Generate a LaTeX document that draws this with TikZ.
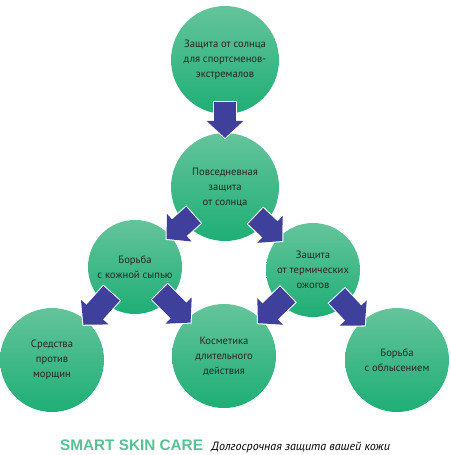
\documentclass[tikz,border=0pt]{standalone}
\usepackage{fontspec}
\setmainfont{PT Sans}
\newfontfamily\brandfont{Liberation Sans}
\usetikzlibrary{arrows.meta}
\definecolor{ballTop}{RGB}{100,196,155}
\definecolor{ballBot}{RGB}{30,174,118}
\definecolor{arrBlue}{RGB}{62,64,156}
\definecolor{brandGreen}{RGB}{86,194,148}
\begin{document}
\begin{tikzpicture}[x=1pt,y=-1pt,
  ball/.style={circle,inner sep=0pt,minimum size=#1,top color=ballTop,bottom color=ballBot,
    text=black!85,align=center,font=\fontsize{10.6}{15}\selectfont},
  ball/.default=108pt,
  push/.style={arrBlue,line width=22pt,-{Triangle[width=36pt,length=17pt]},
    shorten <=-12pt,shorten >=-5pt,
    preaction={draw=white,line width=24pt,-{Triangle[width=41pt,length=19.4pt]},
      shorten <=-13pt,shorten >=-6.4pt}}]
\useasboundingbox (0,0) rectangle (450,455);
\node[ball] (top) at (225,60) {Защита от солнца\\для спортсменов-\\экстремалов};
\node[ball] (day) at (225,187) {Повседневная\\защита\\от солнца};
\node[ball=94pt] (rash) at (135,267) {Борьба\\с кожной сыпью};
\node[ball=94pt] (burn) at (313,270) {Защита\\от термических\\ожогов};
\node[ball=104pt] (wrinkle) at (52,360) {Средства\\против\\морщин};
\node[ball=104pt] (lasting) at (224,356) {Косметика\\длительного\\действия};
\node[ball=104pt] (hair) at (397,360) {Борьба\\с облысением};

\draw[push] (top)--(day);
\draw[push] (day)--(rash);
\draw[push] (day)--(burn);
\draw[push] (rash)--(wrinkle);
\draw[push] (rash)--(lasting);
\draw[push] (burn)--(lasting);
\draw[push] (burn)--(hair);

\node[anchor=base west,inner sep=0pt,text=brandGreen,font=\brandfont\bfseries\fontsize{15.3}{15}\selectfont] (brand) at (60,450) {SMART SKIN CARE};
\node[anchor=base west,inner sep=0pt,font=\itshape\fontsize{12}{12}\selectfont] (motto) at ([xshift=8pt]brand.base east) {Долгосрочная защита вашей кожи};
\end{tikzpicture}
\end{document}
